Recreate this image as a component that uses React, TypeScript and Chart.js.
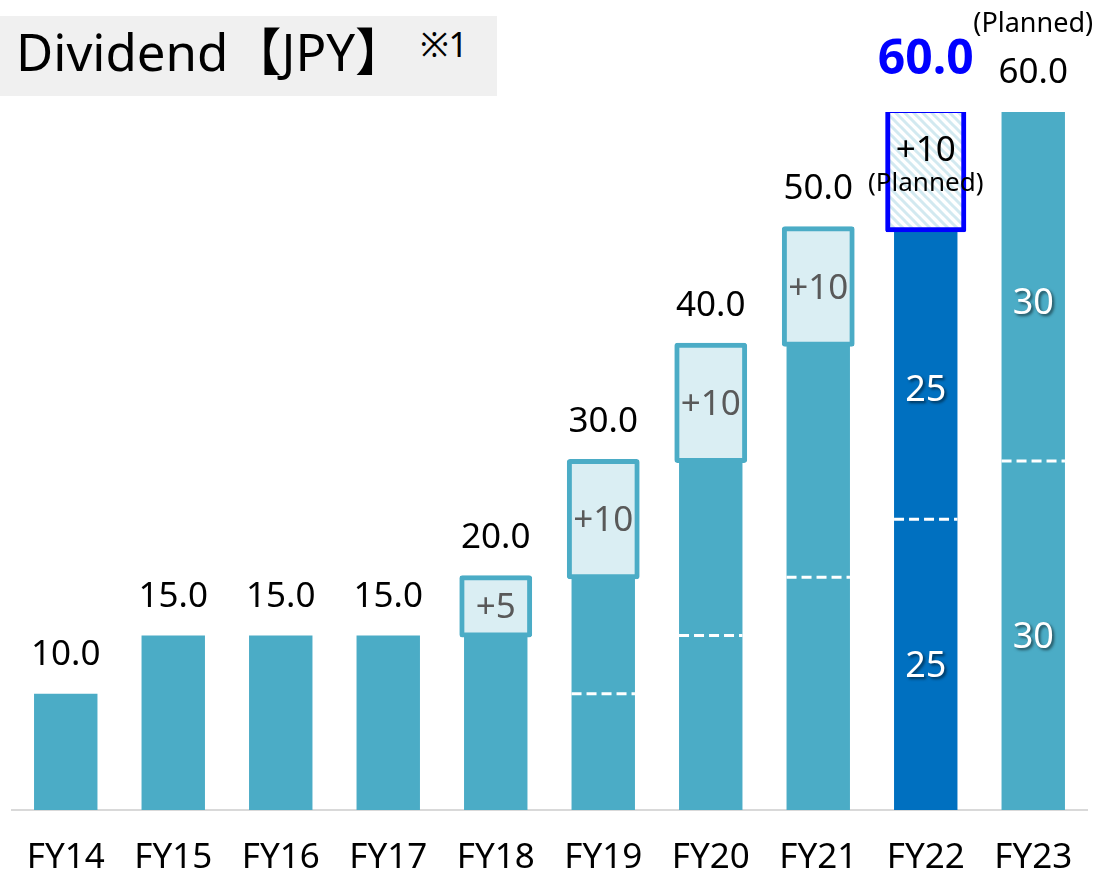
import React, { useEffect, useRef } from 'react';
import { Chart, registerables } from 'chart.js';

Chart.register(...registerables);

// ---- data ----
const categories = ['FY14', 'FY15', 'FY16', 'FY17', 'FY18', 'FY19', 'FY20', 'FY21', 'FY22', 'FY23'];
const baseDividend = [10, 15, 15, 15, 15, 20, 30, 40, 50, 60];
const increase: (number | null)[] = [null, null, null, null, 5, 10, 10, 10, null, null];
const plannedIncrease: (number | null)[] = [null, null, null, null, null, null, null, null, 10, null];
const halfMark: (number | null)[] = [null, null, null, null, null, 10, 15, 20, 25, 30];
const splitValues: (number | null)[] = [null, null, null, null, null, null, null, null, 25, 30];
const totalLabels = ['10.0', '15.0', '15.0', '15.0', '20.0', '30.0', '40.0', '50.0', '60.0', '60.0'];
const plannedTotalIndex = 8;
const plannedNoteIndex = 9;

const TEAL = '#4BACC6';
const DARK_BLUE = '#0070C0';
const LIGHT = '#DAEEF3';
const FONT = '"Noto Sans", "Open Sans", sans-serif';

function makeHatch(): CanvasPattern | string {
  const c = document.createElement('canvas');
  c.width = 9;
  c.height = 9;
  const ctx = c.getContext('2d');
  if (!ctx) return LIGHT;
  ctx.fillStyle = '#ffffff';
  ctx.fillRect(0, 0, 9, 9);
  ctx.strokeStyle = '#D2E9F0';
  ctx.lineWidth = 3;
  ctx.beginPath();
  ctx.moveTo(-1, -1);
  ctx.lineTo(10, 10);
  ctx.moveTo(-10, -1);
  ctx.lineTo(1, 10);
  ctx.moveTo(8, -1);
  ctx.lineTo(19, 10);
  ctx.stroke();
  return ctx.createPattern(c, 'repeat') || LIGHT;
}

const labelPlugin = {
  id: 'dividendLabels',
  afterDatasetsDraw(chart: any) {
    const ctx = chart.ctx;
    const y = chart.scales.y;
    const baseMeta = chart.getDatasetMeta(0);
    ctx.save();

    // dashed half marks
    ctx.strokeStyle = '#ffffff';
    ctx.lineWidth = 3;
    ctx.setLineDash([10, 5]);
    halfMark.forEach((v, i) => {
      if (v == null) return;
      const bar = baseMeta.data[i];
      const py = y.getPixelForValue(v);
      ctx.beginPath();
      ctx.moveTo(bar.x - bar.width / 2, py);
      ctx.lineTo(bar.x + bar.width / 2, py);
      ctx.stroke();
    });
    ctx.setLineDash([]);

    // white split values inside bars
    ctx.textAlign = 'center';
    ctx.textBaseline = 'alphabetic';
    splitValues.forEach((v, i) => {
      if (v == null) return;
      const bar = baseMeta.data[i];
      ctx.save();
      ctx.font = `36px ${FONT}`;
      ctx.fillStyle = '#ffffff';
      ctx.shadowColor = 'rgba(0,0,0,0.55)';
      ctx.shadowOffsetX = 2;
      ctx.shadowOffsetY = 2;
      ctx.shadowBlur = 3;
      const lowMid = y.getPixelForValue(v / 2);
      const upMid = y.getPixelForValue(v + v / 2);
      ctx.fillText(String(v), bar.x, lowMid + 12);
      ctx.fillText(String(v), bar.x, upMid + 27);
      ctx.restore();
    });

    // increase labels inside boxes
    increase.forEach((v, i) => {
      if (v == null) return;
      const bar = baseMeta.data[i];
      const mid = y.getPixelForValue(baseDividend[i] + v / 2);
      ctx.font = `35px ${FONT}`;
      ctx.fillStyle = '#595959';
      ctx.fillText('+' + v, bar.x, mid + 12);
    });
    plannedIncrease.forEach((v, i) => {
      if (v == null) return;
      const bar = baseMeta.data[i];
      const mid = y.getPixelForValue(baseDividend[i] + v / 2);
      ctx.font = `35px ${FONT}`;
      ctx.fillStyle = '#000000';
      ctx.fillText('+' + v, bar.x, mid - 9);
      ctx.font = `26px ${FONT}`;
      ctx.fillText('(Planned)', bar.x, mid + 21);
    });

    // totals above
    totalLabels.forEach((t, i) => {
      const bar = baseMeta.data[i];
      const total = baseDividend[i] + (increase[i] || 0) + (plannedIncrease[i] || 0);
      const top = y.getPixelForValue(total);
      if (i === plannedTotalIndex) {
        ctx.font = `bold 48px ${FONT}`;
        ctx.fillStyle = '#0000FF';
        ctx.fillText(t, bar.x, top - 38);
      } else {
        ctx.font = `35px ${FONT}`;
        ctx.fillStyle = '#000000';
        ctx.fillText(t, bar.x, top - 29);
      }
      if (i === plannedNoteIndex) {
        ctx.font = `27px ${FONT}`;
        ctx.fillStyle = '#000000';
        ctx.fillText('(Planned)', bar.x, top - 80);
      }
    });
    ctx.restore();
  },
};

export default function App() {
  const ref = useRef<HTMLCanvasElement | null>(null);

  useEffect(() => {
    if (!ref.current) return;
    const hatch = makeHatch();
    const chart = new Chart(ref.current, {
      type: 'bar',
      data: {
        labels: categories,
        datasets: [
          {
            label: 'Dividend',
            data: baseDividend,
            backgroundColor: categories.map((_, i) => (i === plannedTotalIndex ? DARK_BLUE : TEAL)),
            grouped: false,
            categoryPercentage: 1,
            barPercentage: 0.59,
            order: 2,
          } as any,
          {
            label: 'Increase',
            data: increase.map((v, i) => (v == null ? null : [baseDividend[i], baseDividend[i] + v])),
            backgroundColor: LIGHT,
            borderColor: TEAL,
            borderWidth: 5,
            borderRadius: 3,
            borderSkipped: false,
            inflateAmount: 2,
            grouped: false,
            categoryPercentage: 1,
            barPercentage: 0.64,
            order: 1,
          } as any,
          {
            label: 'Planned increase',
            data: plannedIncrease.map((v, i) => (v == null ? null : [baseDividend[i], baseDividend[i] + v])),
            backgroundColor: hatch,
            borderColor: '#0000FF',
            borderWidth: 5,
            borderRadius: 2,
            borderSkipped: false,
            inflateAmount: 4,
            grouped: false,
            categoryPercentage: 1,
            barPercentage: 0.68,
            order: 0,
          } as any,
        ],
      },
      options: {
        responsive: false,
        animation: false,
        layout: { padding: { left: 12, right: 7, top: 112, bottom: 0 } },
        plugins: {
          legend: { display: false },
          tooltip: { enabled: false },
        },
        scales: {
          x: {
            grid: { display: false, drawTicks: false },
            border: { display: true, color: '#D9D9D9', width: 2 },
            ticks: {
              color: '#000000',
              font: { family: FONT, size: 35, lineHeight: 1 },
              padding: 31,
              autoSkip: false,
              maxRotation: 0,
            },
            afterFit: (scale: any) => {
              scale.height = 63;
              scale.paddingLeft = 0;
              scale.paddingRight = 0;
            },
          },
          y: { display: false, min: 0, max: 60 },
        },
      } as any,
      plugins: [labelPlugin],
    });
    return () => chart.destroy();
  }, []);

  return (
    <div style={{ position: 'absolute', left: 0, top: 0, width: 1094, height: 873, background: '#ffffff' }}>
      <canvas ref={ref} width={1094} height={873} style={{ position: 'absolute', left: 0, top: 0 }} />
      <div
        style={{
          position: 'absolute',
          left: 0,
          top: 16,
          width: 497,
          height: 80,
          background: '#F0F0F0',
          fontFamily: '"Noto Sans", "Noto Sans CJK JP", sans-serif',
          fontSize: 51,
          lineHeight: '70px',
          color: '#000000',
          paddingLeft: 16,
          boxSizing: 'border-box',
          whiteSpace: 'nowrap',
        }}
      >
        Dividend<span style={{ marginLeft: 2 }}>【JPY】</span>
        <span style={{ fontSize: 34, verticalAlign: 'top', lineHeight: '56px', marginLeft: 14 }}>※1</span>
      </div>
    </div>
  );
}
